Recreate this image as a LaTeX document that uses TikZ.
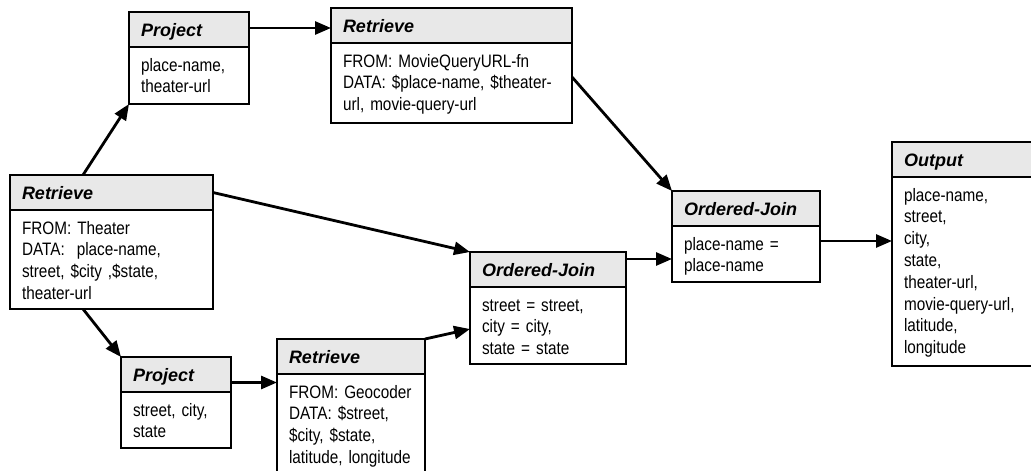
\documentclass[tikz,border=0pt]{standalone}
\usepackage{fontspec}
\usetikzlibrary{positioning,arrows.meta}
\newfontfamily\headfont{Liberation Sans}
\newfontfamily\bodyfont[FakeStretch=0.85]{Liberation Sans}

\begin{document}
\begin{tikzpicture}[x=1pt, y=-1pt,
    head/.style={draw, line width=2.2pt, fill=gray!18, outer sep=0pt, inner xsep=12pt,
        text height=13pt, text depth=0pt, minimum height=35pt, align=left,
        font=\headfont\fontsize{18}{21}\selectfont\bfseries\itshape},
    body/.style={draw, line width=2.2pt, fill=white, outer sep=0pt, inner xsep=12pt,
        inner ysep=10pt, text height=14pt, align=left,
        font=\bodyfont\fontsize{18}{21.8}\selectfont},
    flow/.style={-{Triangle[length=16pt,width=13pt]}, line width=2.8pt}]
    \useasboundingbox (0,0) rectangle (1031,471);

    % Retrieve from the theater source
    \node[head, text width=179pt, anchor=north west] (rt) at (10,175) {Retrieve};
    \node[body, text width=179pt, text depth=65pt, below=0pt of rt] (rtb)
        {FROM: Theater\\DATA:\ \ place-name,\\street, \$city ,\$state,\\theater-url};

    % Upper branch
    \node[head, text width=96pt, anchor=north west] (pj1) at (129,12) {Project};
    \node[body, text width=96pt, text depth=23pt, below=0pt of pj1] (pj1b)
        {place-name,\\theater-url};

    \node[head, text width=217pt, anchor=north west] (rm) at (331,8) {Retrieve};
    \node[body, text width=217pt, text depth=46pt, below=0pt of rm] (rmb)
        {FROM: MovieQueryURL-fn\\DATA: \$place-name, \$theater-\\url, movie-query-url};

    % Lower branch
    \node[head, text width=86pt, anchor=north west] (pj2) at (121,357) {Project};
    \node[body, text width=86pt, text depth=22pt, below=0pt of pj2] (pj2b)
        {street, city,\\state};

    \node[head, text width=124pt, anchor=north west] (rg) at (277,339) {Retrieve};
    \node[body, text width=124pt, text depth=82pt, below=0pt of rg] (rgb)
        {FROM: Geocoder\\DATA: \$street,\\\$city, \$state,\\latitude, longitude};

    % Joins
    \node[head, text width=132pt, anchor=north west] (oj1) at (470,252) {Ordered-Join};
    \node[body, text width=132pt, text depth=43pt, below=0pt of oj1] (oj1b)
        {street = street,\\city = city,\\state = state};

    \node[head, text width=124pt, anchor=north west] (oj2) at (672,191) {Ordered-Join};
    \node[body, text width=124pt, text depth=22pt, below=0pt of oj2] (oj2b)
        {place-name =\\place-name};

    % Output
    \node[head, text width=126pt, anchor=north west] (out) at (892,142) {Output};
    \node[body, text width=126pt, text depth=155pt, below=0pt of out] (outb)
        {place-name,\\street,\\city,\\state,\\theater-url,\\movie-query-url,\\latitude,\\longitude};

    % Arrows
    \coordinate (p1) at ([yshift=1.5pt]pj1.east);
    \coordinate (p2) at ([yshift=-8pt]pj2.east);
    \coordinate (j2) at ([yshift=-5pt]oj2b.west);
    \coordinate (o2) at ([yshift=13pt]oj2b.east);
    \draw[flow] ([xshift=73pt]rt.north west) -- (pj1b.south west);
    \draw[flow] ([xshift=73pt]rtb.south west) -- (pj2.north west);
    \draw[flow] (p1) -- (p1 -| rm.west);
    \draw[flow] (p2) -- (p2 -| rgb.west);
    \draw[flow] ([yshift=6pt]rmb.east) -- (oj2.north west);
    \draw[flow] (rt.east) -- (oj1.north west);
    \draw[flow] (rg.north east) -- ([yshift=-3.5pt]oj1b.west);
    \draw[flow] (j2 -| oj1.east) -- (j2);
    \draw[flow] (o2) -- (o2 -| outb.west);
\end{tikzpicture}
\end{document}
